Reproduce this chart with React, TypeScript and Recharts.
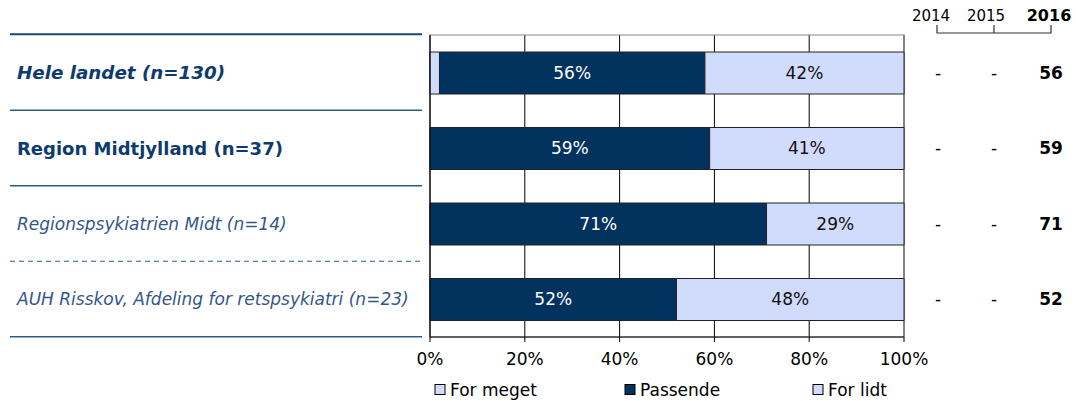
import React from 'react';
import {
  BarChart,
  Bar,
  XAxis,
  YAxis,
  CartesianGrid,
  ReferenceArea,
  LabelList,
} from 'recharts';

const categories = [
  'Hele landet (n=130)',
  'Region Midtjylland (n=37)',
  'Regionspsykiatrien Midt (n=14)',
  'AUH Risskov, Afdeling for retspsykiatri (n=23)',
];
const forMeget = [2, 0, 0, 0];
const passende = [56, 59, 71, 52];
const forLidt = [42, 41, 29, 48];
const years = ['2014', '2015', '2016'];
const values2014 = ['-', '-', '-', '-'];
const values2015 = ['-', '-', '-', '-'];
const values2016 = ['56', '59', '71', '52'];
const xTicks = [0, 20, 40, 60, 80, 100];
const legendNames = ['For meget', 'Passende', 'For lidt'];

const DARK = '#02335F';
const LIGHT = '#D1DBFC';
const NAVY = '#0E3B6E';
const FONT = '"DejaVu Sans", Verdana, sans-serif';

const data = categories.map((name, i) => ({
  name,
  forMeget: forMeget[i],
  passende: passende[i],
  forLidt: forLidt[i],
}));

// label look per row: country, region, units
const rowStyles = [
  { fontSize: 18.3, fontWeight: 'bold', fontStyle: 'italic', fill: NAVY },
  { fontSize: 18, fontWeight: 'bold', fontStyle: 'normal', fill: NAVY },
  { fontSize: 17, fontWeight: 'normal', fontStyle: 'italic', fill: '#34568A' },
  { fontSize: 17, fontWeight: 'normal', fontStyle: 'italic', fill: '#34568A' },
];

const half = 37.5;

function RowTick(props: any) {
  const { y, payload } = props;
  const i = payload.index;
  const st = rowStyles[i];
  const dashed = i === 2;
  return (
    <g fontFamily={FONT}>
      {i === 0 && (
        <line x1={10} x2={422} y1={y - half - 1} y2={y - half - 1} stroke="#1B4779" strokeWidth={2} />
      )}
      <text x={17} y={y} dy="0.35em" {...st}>
        {categories[i]}
      </text>
      <line
        x1={10}
        x2={422}
        y1={y + half}
        y2={y + half}
        stroke="#2D5A8C"
        strokeWidth={dashed ? 1.2 : 1.6}
        strokeDasharray={dashed ? '5 4' : undefined}
      />
      <text x={938} y={y} dy="0.35em" textAnchor="middle" fontSize={17} fill="#000">
        {values2014[i]}
      </text>
      <text x={994} y={y} dy="0.35em" textAnchor="middle" fontSize={17} fill="#000">
        {values2015[i]}
      </text>
      <text x={1051} y={y} dy="0.35em" textAnchor="middle" fontSize={17} fontWeight="bold" fill="#000">
        {values2016[i]}
      </text>
    </g>
  );
}

function makeInside(color: string) {
  return (props: any) => {
    const { x, y, width, height, value } = props;
    if (!value || value < 5) return null;
    return (
      <text
        x={x + width / 2}
        y={y + height / 2}
        dy="0.35em"
        textAnchor="middle"
        fontSize={17}
        fontFamily={FONT}
        fill={color}
      >
        {value}%
      </text>
    );
  };
}

export default function App() {
  const legendX = [435, 625, 813];
  const legendFill = [LIGHT, DARK, LIGHT];
  return (
    <div style={{ position: 'absolute', left: 0, top: 0, width: 1076, height: 401, background: '#fff' }}>
      <BarChart
        width={1076}
        height={401}
        data={data}
        layout="vertical"
        margin={{ top: 35, right: 172, bottom: 34, left: 0 }}
        barSize={42}
      >
        <CartesianGrid horizontal={false} stroke="#000" strokeWidth={1} />
        <ReferenceArea x1={0} x2={100} fill="none" stroke="#888" strokeWidth={1.2} ifOverflow="visible" />
        <XAxis
          type="number"
          domain={[0, 100]}
          ticks={xTicks}
          tickFormatter={(v: number) => `${v}%`}
          axisLine={{ stroke: '#000' }}
          tickLine={{ stroke: '#000' }}
          tickSize={5}
          tickMargin={11}
          height={30}
          tick={{ fill: '#000', fontSize: 17, fontFamily: FONT }}
        />
        <YAxis
          type="category"
          dataKey="name"
          width={430}
          axisLine={{ stroke: '#000' }}
          tickLine={false}
          tick={<RowTick />}
          interval={0}
        />
        <Bar dataKey="forMeget" stackId="a" fill={LIGHT} stroke="#222" strokeWidth={1} isAnimationActive={false} />
        <Bar dataKey="passende" stackId="a" fill={DARK} stroke="#222" strokeWidth={1} isAnimationActive={false}>
          <LabelList dataKey="passende" content={makeInside('#fff')} />
        </Bar>
        <Bar dataKey="forLidt" stackId="a" fill={LIGHT} stroke="#222" strokeWidth={1} isAnimationActive={false}>
          <LabelList dataKey="forLidt" content={makeInside('#111')} />
        </Bar>
      </BarChart>
      <svg
        width={1076}
        height={401}
        style={{ position: 'absolute', left: 0, top: 0, pointerEvents: 'none' }}
        fontFamily={FONT}
      >
        {years.map((yr, i) => (
          <text
            key={yr}
            x={[931, 986, 1049][i]}
            y={21}
            textAnchor="middle"
            fontSize={i === 2 ? 16 : 15}
            fontWeight={i === 2 ? 'bold' : 'normal'}
            fill="#000"
          >
            {yr}
          </text>
        ))}
        <path d="M937,25 V33 H1051 V25 M994,25 V33" stroke="#333" strokeWidth={1.2} fill="none" />
        {legendNames.map((nm, i) => (
          <g key={nm}>
            <rect x={legendX[i]} y={384.5} width={10} height={10} fill={legendFill[i]} stroke="#000" strokeWidth={1} />
            <text x={legendX[i] + 15} y={396} fontSize={17} fill="#000">
              {nm}
            </text>
          </g>
        ))}
      </svg>
    </div>
  );
}
